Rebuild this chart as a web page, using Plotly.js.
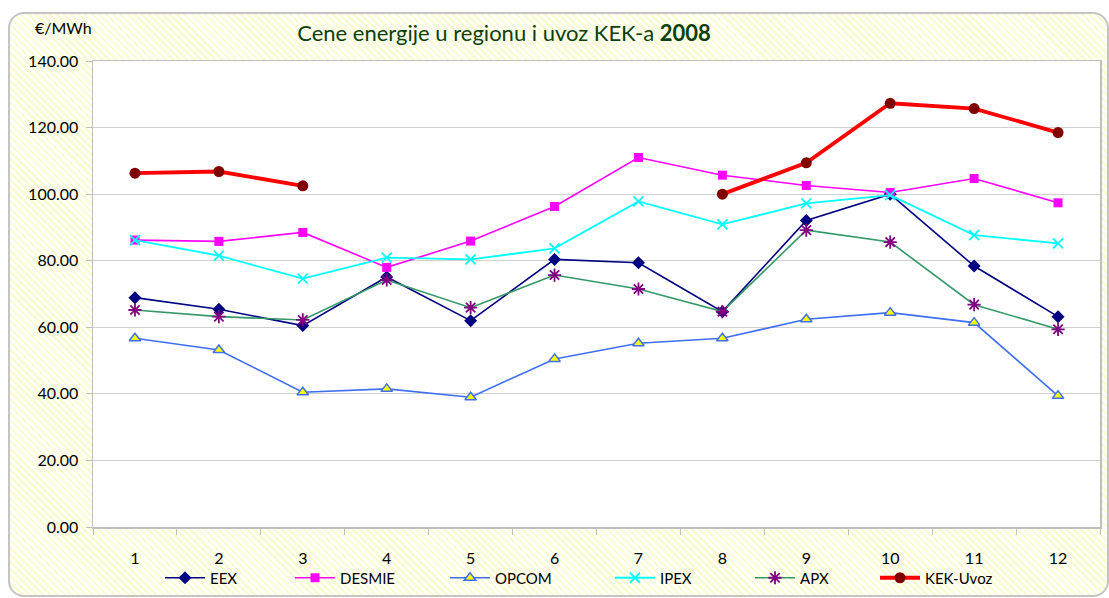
<!DOCTYPE html>
<html>
<head>
<meta charset="utf-8">
<script src="https://cdn.plot.ly/plotly-3.0.1.min.js"></script>
<style>
  html, body { margin: 0; padding: 0; background: #ffffff; }
  #wrap { position: relative; width: 1109px; height: 598px; overflow: hidden; background: #ffffff; }
  #frame {
    position: absolute; left: 8px; top: 12px; width: 1097px; height: 581px;
    border: 2px solid #c4c4c4; border-radius: 16px;
    background: repeating-linear-gradient(45deg, #ffffff 0px, #ffffff 2.5px, #fbfbd4 2.5px, #fbfbd4 5px);
  }
  #chart { position: absolute; left: 0; top: 0; width: 1109px; height: 598px; }
</style>
</head>
<body>
<div id="wrap">
  <div id="frame"></div>
  <div id="chart"></div>
</div>
<script>
const months = [1, 2, 3, 4, 5, 6, 7, 8, 9, 10, 11, 12];
const monthLabels = ['1', '2', '3', '4', '5', '6', '7', '8', '9', '10', '11', '12'];
const eex    = [68.9, 65.4, 60.5, 75.1, 62.0, 80.4, 79.4, 64.7, 92.1, 100.0, 78.4, 63.2];
const desmie = [86.2, 85.8, 88.5, 78.0, 85.9, 96.3, 111.0, 105.7, 102.6, 100.5, 104.7, 97.4];
const opcom  = [56.7, 53.2, 40.5, 41.5, 39.0, 50.5, 55.2, 56.7, 62.4, 64.4, 61.4, 39.4];
const ipex   = [86.2, 81.5, 74.6, 80.9, 80.4, 83.7, 97.8, 90.9, 97.2, 99.7, 87.7, 85.2];
const apx    = [65.2, 63.2, 62.2, 74.2, 65.9, 75.7, 71.5, 64.7, 89.2, 85.6, 66.8, 59.4];
const kek    = [106.3, 106.8, 102.5, null, null, null, null, 100.0, 109.4, 127.3, 125.7, 118.5];
const yTicks = [0, 20, 40, 60, 80, 100, 120, 140];
const yTickLabels = ['0.00', '20.00', '40.00', '60.00', '80.00', '100.00', '120.00', '140.00'];
const boundaries = [0.5, 1.5, 2.5, 3.5, 4.5, 5.5, 6.5, 7.5, 8.5, 9.5, 10.5, 11.5, 12.5];

const FONT = 'Lato, "Open Sans", sans-serif';

const traces = [
  { name: 'EEX', legend: 'legend', x: months, y: eex, type: 'scatter', mode: 'lines+markers',
    line: { color: '#000080', width: 1.6 },
    marker: { symbol: 'diamond', size: 10, color: '#000080' } },
  { name: 'DESMIE', legend: 'legend2', x: months, y: desmie, type: 'scatter', mode: 'lines+markers',
    line: { color: '#ff00ff', width: 1.6 },
    marker: { symbol: 'square', size: 9, color: '#ff00ff' } },
  { name: 'OPCOM', legend: 'legend3', x: months, y: opcom, type: 'scatter', mode: 'lines+markers',
    line: { color: '#3f6ff0', width: 1.6 },
    marker: { symbol: 'triangle-up', size: 10, color: '#ffff00', line: { color: '#3f6ff0', width: 1.5 } } },
  { name: 'IPEX', legend: 'legend4', x: months, y: ipex, type: 'scatter', mode: 'lines+markers',
    line: { color: '#00ffff', width: 1.8 },
    marker: { symbol: 'x-thin-open', size: 10, color: '#00ffff', line: { color: '#00ffff', width: 1.8 } } },
  { name: 'APX', legend: 'legend5', x: months, y: apx, type: 'scatter', mode: 'lines+markers',
    line: { color: '#339966', width: 1.6 },
    marker: { symbol: 'asterisk-open', size: 11, color: '#800080', line: { color: '#800080', width: 1.8 } } },
  { name: 'KEK-Uvoz', legend: 'legend6', x: months, y: kek, type: 'scatter', mode: 'lines+markers',
    connectgaps: false,
    line: { color: '#ff0000', width: 3.8 },
    marker: { symbol: 'circle', size: 11, color: '#800000' } }
];

function legendAt(px) {
  return {
    orientation: 'h',
    x: (px - 93) / 1007, xanchor: 'left',
    y: -(578 - 527) / 466, yanchor: 'middle',
    bgcolor: 'rgba(0,0,0,0)',
    font: { family: FONT, size: 15, color: '#000000' },
    itemwidth: 40
  };
}

const layout = {
  width: 1109, height: 598,
  margin: { l: 93, r: 9, t: 61, b: 71, pad: 0, autoexpand: false },
  paper_bgcolor: 'rgba(0,0,0,0)',
  plot_bgcolor: '#ffffff',
  font: { family: FONT, size: 16, color: '#000000' },
  showlegend: true,
  title: {
    text: 'Cene energije u regionu i uvoz KEK-a <b>2008</b>',
    font: { family: FONT, size: 22, color: '#0d3f0d' },
    xref: 'container', yref: 'container',
    x: 0.4545, xanchor: 'center',
    y: 1 - 33 / 598, yanchor: 'middle'
  },
  xaxis: {
    type: 'linear',
    range: [0.5, 12.5],
    tickmode: 'array', tickvals: months, ticktext: monthLabels,
    ticks: '', showgrid: false, zeroline: false,
    showline: true, linecolor: '#bfbfbf', linewidth: 1.5, mirror: true,
    tickfont: { family: FONT, size: 16, color: '#000000' },
    ticklabelstandoff: 16,
    minor: { tickmode: 'array', tickvals: boundaries, ticks: 'outside', ticklen: 6, tickcolor: '#bfbfbf', tickwidth: 1, showgrid: false }
  },
  yaxis: {
    range: [0, 140],
    tickmode: 'array', tickvals: yTicks, ticktext: yTickLabels,
    ticks: 'outside', ticklen: 6, tickcolor: '#bfbfbf',
    showgrid: true, gridcolor: '#d0d0d0', gridwidth: 1,
    zeroline: false,
    showline: true, linecolor: '#bfbfbf', linewidth: 1.5, mirror: true,
    tickfont: { family: FONT, size: 16, color: '#000000' },
    ticklabelstandoff: 4
  },
  legend: legendAt(160),
  legend2: legendAt(290),
  legend3: legendAt(445),
  legend4: legendAt(610),
  legend5: legendAt(750),
  legend6: legendAt(875),
  annotations: [
    { text: '€/MWh', xref: 'paper', yref: 'paper', x: -0.06, y: 1 + (61 - 27) / 466,
      xanchor: 'left', yanchor: 'middle', showarrow: false,
      font: { family: FONT, size: 16, color: '#000000' } }
  ]
};

Plotly.newPlot('chart', traces, layout, { displayModeBar: false, staticPlot: true });
</script>
</body>
</html>
